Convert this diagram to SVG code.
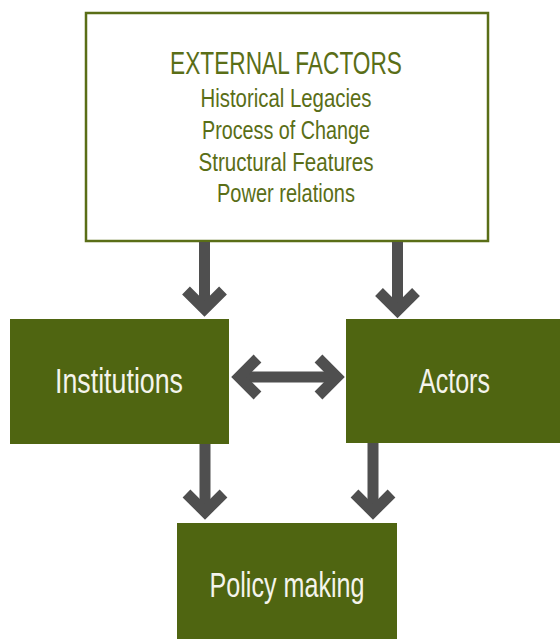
<svg xmlns="http://www.w3.org/2000/svg" width="560" height="639" viewBox="0 0 560 639">
<style>
.box{fill:#4f6511;}
.wt{fill:#f4f4ec;font-family:"Liberation Sans",Arial,sans-serif;font-size:35px;text-anchor:middle;}
.gt{fill:#5a6e17;font-family:"Liberation Sans",Arial,sans-serif;text-anchor:middle;}
.arr{fill:none;stroke:#4f4f4f;stroke-width:11;stroke-linejoin:miter;stroke-linecap:butt;}
</style>
<rect width="560" height="639" fill="#ffffff"/>
<g id="external">
<rect x="86" y="13" width="402" height="228" fill="#ffffff" stroke="#5a6e17" stroke-width="2.5"/>
<text class="gt" x="286" y="74" font-size="31" textLength="232" lengthAdjust="spacingAndGlyphs">EXTERNAL FACTORS</text>
<text class="gt" x="286" y="107" font-size="25" textLength="171" lengthAdjust="spacingAndGlyphs">Historical Legacies</text>
<text class="gt" x="286" y="138.5" font-size="25" textLength="168" lengthAdjust="spacingAndGlyphs">Process of Change</text>
<text class="gt" x="286" y="170.5" font-size="25" textLength="175" lengthAdjust="spacingAndGlyphs">Structural Features</text>
<text class="gt" x="286" y="202" font-size="25" textLength="138" lengthAdjust="spacingAndGlyphs">Power relations</text>
</g>
<g id="institutions">
<rect class="box" x="10" y="319" width="219" height="125"/>
<text class="wt" x="119" y="393" textLength="128" lengthAdjust="spacingAndGlyphs">Institutions</text>
</g>
<g id="actors">
<rect class="box" x="346" y="319" width="214" height="124"/>
<text class="wt" x="454.5" y="393" textLength="71" lengthAdjust="spacingAndGlyphs">Actors</text>
</g>
<g id="policy">
<rect class="box" x="177" y="523" width="220" height="116"/>
<text class="wt" x="287" y="596.5" textLength="155" lengthAdjust="spacingAndGlyphs">Policy making</text>
</g>
<g id="connectors">
<line class="arr" x1="204.5" y1="242" x2="204.5" y2="308"/>
<polyline class="arr" points="186,290.5 204.5,309 223,290.5"/>
<line class="arr" x1="397.5" y1="242" x2="397.5" y2="309"/>
<polyline class="arr" points="379,292 397.5,310.5 416,292"/>
<line class="arr" x1="239" y1="377" x2="337" y2="377"/>
<polyline class="arr" points="257.5,358.5 239,377 257.5,395.5"/>
<polyline class="arr" points="318.5,358.5 337,377 318.5,395.5"/>
<line class="arr" x1="205" y1="444" x2="205" y2="511"/>
<polyline class="arr" points="186.5,493.5 205,512 223.5,493.5"/>
<line class="arr" x1="373" y1="443" x2="373" y2="511"/>
<polyline class="arr" points="354.5,493.5 373,512 391.5,493.5"/>
</g>
</svg>
